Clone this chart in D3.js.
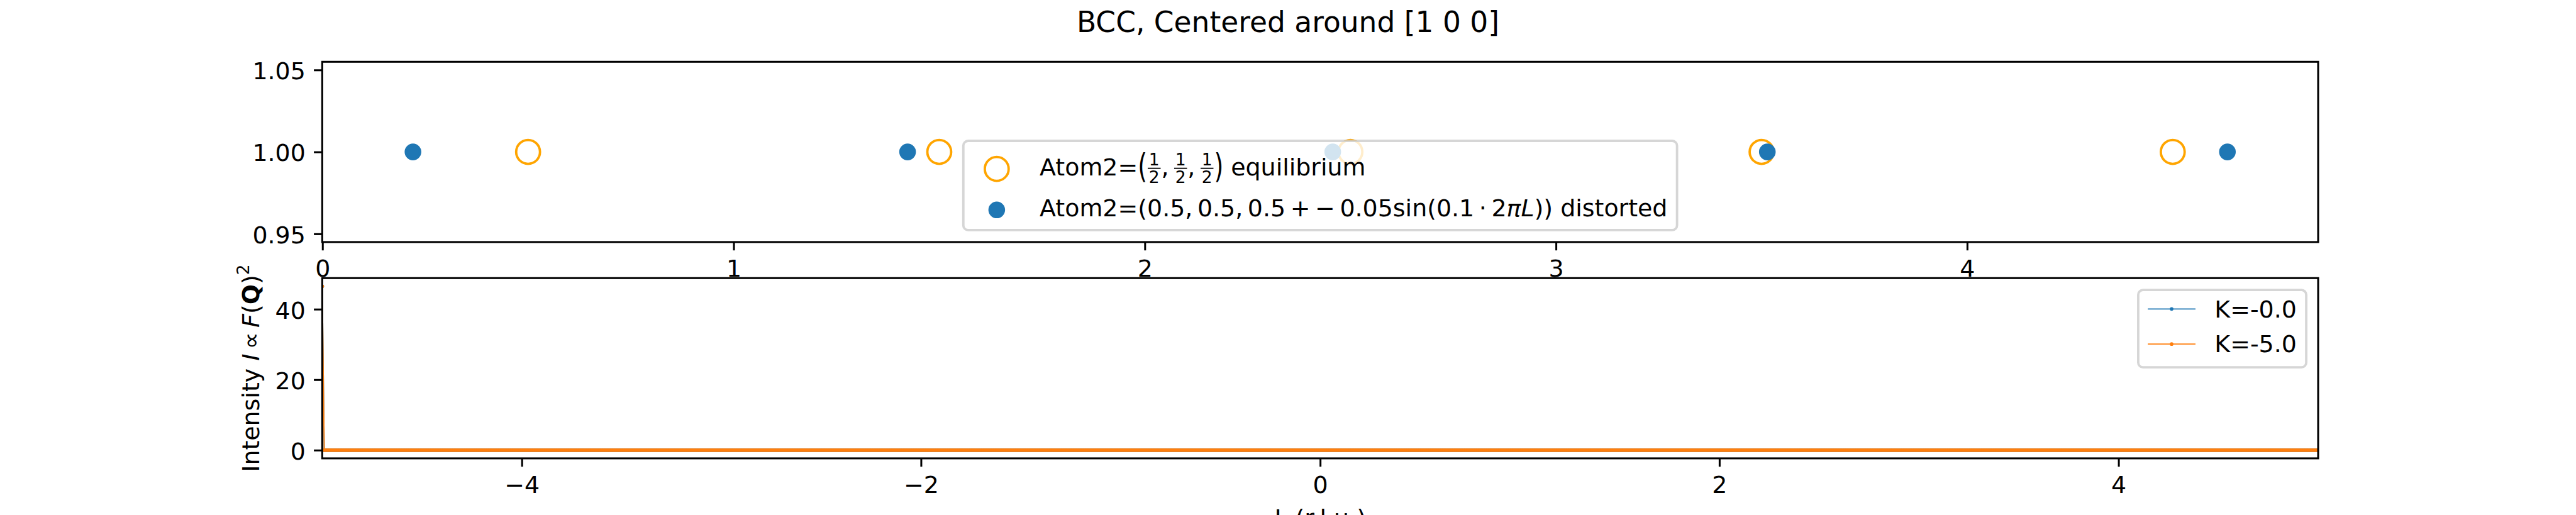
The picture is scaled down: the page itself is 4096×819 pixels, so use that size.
<!DOCTYPE html>
<html><head><meta charset="utf-8">
<script src="https://cdn.jsdelivr.net/npm/d3@7"></script>
<style>
html,body{margin:0;padding:0;background:#fff;overflow:hidden}
svg{display:block}
text{font-family:"DejaVu Sans",sans-serif;fill:#000}
</style>
</head><body>
<svg id="chart" width="4096" height="819" viewBox="0 0 4500 900"></svg>
<script>
// ---------------- data ----------------
const titleText = "BCC, Centered around [1 0 0]";
// top panel: atom positions along the axis
const equilibriumX = [0.5, 1.5, 2.5, 3.5, 4.5];
const equilibriumY = [1, 1, 1, 1, 1];
const distortedX = [0.220, 1.423, 2.457, 3.514, 4.633];
const distortedY = [1, 1, 1, 1, 1];
const topXTicks = [0, 1, 2, 3, 4];
const topYTicks = [0.95, 1.00, 1.05];
// bottom panel: intensity vs L
const seriesLabels = ["K=-0.0", "K=-5.0"];
const lRange = [-5, 5];
const lStep = 0.01;               // sampling of L
const baselineIntensity = 0;      // flat level
const peakL = [-5];               // only visible peak (left edge)
const peakK0 = [46.5];
const peakK5 = [46.5];
const bottomXTicks = [-4, -2, 0, 2, 4];
const bottomYTicks = [0, 20, 40];

// ---------------- layout ----------------
const PT = 300 / 72;
const FS = 10 * PT;
const axL = 562.5, axR = 4050;
const topAx = {top: 108, bottom: 423};
const botAx = {top: 486, bottom: 801};
const BLUE = "#1f77b4", ORANGE = "#ff7f0e", EQ_ORANGE = "#ffa500";

const svg = d3.select("#chart");
svg.append("rect").attr("width", 4500).attr("height", 900).attr("fill", "#fff");

svg.append("text").attr("x", 2250).attr("y", 56).attr("text-anchor", "middle")
  .attr("font-size", 12 * PT).text(titleText);

function styleAxis(g, kind) {
  g.attr("font-size", FS).attr("font-family", "DejaVu Sans");
  g.select(".domain").remove();
  g.selectAll(".tick line").attr("stroke", "#000").attr("stroke-width", 0.8 * PT);
  g.selectAll(".tick text").attr("fill", "#000");
  if (kind === "x") g.selectAll(".tick text").attr("dy", "0.76em");
  else g.selectAll(".tick text").attr("dy", "0.38em");
}
function spines(ax) {
  svg.append("rect").attr("x", axL).attr("y", ax.top).attr("width", axR - axL)
    .attr("height", ax.bottom - ax.top).attr("fill", "none")
    .attr("stroke", "#000").attr("stroke-width", 0.8 * PT);
}
function padDomain(vals) {
  let [a, b] = d3.extent(vals);
  if (a === b) { const e = Math.abs(a) * 0.05 || 0.05; a -= e; b += e; }
  const m = 0.05 * (b - a);
  return [a - m, b + m];
}

// ---------------- top panel ----------------
const xTop = d3.scaleLinear().domain(padDomain(equilibriumX.concat(distortedX))).range([axL, axR]);
const yTop = d3.scaleLinear().domain(padDomain(equilibriumY.concat(distortedY))).range([topAx.bottom, topAx.top]);

const gTopData = svg.append("g");
gTopData.selectAll("circle.eq").data(equilibriumX).join("circle")
  .attr("cx", (d) => xTop(d)).attr("cy", (d, i) => yTop(equilibriumY[i]))
  .attr("r", 5 * PT).attr("fill", "none").attr("stroke", EQ_ORANGE).attr("stroke-width", PT);
gTopData.selectAll("circle.ds").data(distortedX).join("circle")
  .attr("cx", (d) => xTop(d)).attr("cy", (d, i) => yTop(distortedY[i]))
  .attr("r", 3 * PT).attr("fill", BLUE).attr("stroke", BLUE).attr("stroke-width", PT);

svg.append("g").attr("transform", `translate(0,${topAx.bottom})`)
  .call(d3.axisBottom(xTop).tickValues(topXTicks).tickFormat(d3.format("d"))
    .tickSize(3.5 * PT).tickPadding(3.5 * PT)).call(styleAxis, "x");
svg.append("g").attr("transform", `translate(${axL},0)`)
  .call(d3.axisLeft(yTop).tickValues(topYTicks).tickFormat(d3.format(".2f"))
    .tickSize(3.5 * PT).tickPadding(3.5 * PT)).call(styleAxis, "y");
spines(topAx);

// ---------------- bottom panel ----------------
const nL = Math.round((lRange[1] - lRange[0]) / lStep) + 1;
const lGrid = d3.range(nL).map((i) => +(lRange[0] + i * lStep).toFixed(4));
function buildSeries(peaks) {
  return lGrid.map((l) => {
    const k = peakL.indexOf(l);
    return {L: l, I: k >= 0 ? peaks[k] : baselineIntensity};
  });
}
const series = [
  {label: seriesLabels[0], color: BLUE, data: buildSeries(peakK0)},
  {label: seriesLabels[1], color: ORANGE, data: buildSeries(peakK5)}
];
const xBot = d3.scaleLinear().domain(lRange).range([axL, axR]);
const allI = series.flatMap((s) => s.data.map((d) => d.I));
const yBot = d3.scaleLinear().domain(padDomain(allI)).range([botAx.bottom, botAx.top]);

svg.append("clipPath").attr("id", "clipB").append("rect")
  .attr("x", axL).attr("y", botAx.top).attr("width", axR - axL).attr("height", botAx.bottom - botAx.top);
const gBot = svg.append("g").attr("clip-path", "url(#clipB)");
const line = d3.line().x((d) => xBot(d.L)).y((d) => yBot(d.I));
series.forEach((s) => {
  const g = gBot.append("g");
  g.append("path").datum(s.data).attr("d", line).attr("fill", "none")
    .attr("stroke", s.color).attr("stroke-width", 0.5 * PT);
  g.selectAll("circle").data(s.data).join("circle")
    .attr("cx", (d) => xBot(d.L)).attr("cy", (d) => yBot(d.I))
    .attr("r", 0.75 * PT).attr("fill", s.color);
});

svg.append("g").attr("transform", `translate(0,${botAx.bottom})`)
  .call(d3.axisBottom(xBot).tickValues(bottomXTicks).tickFormat(d3.format("d"))
    .tickSize(3.5 * PT).tickPadding(3.5 * PT)).call(styleAxis, "x");
svg.append("g").attr("transform", `translate(${axL},0)`)
  .call(d3.axisLeft(yBot).tickValues(bottomYTicks).tickFormat(d3.format("d"))
    .tickSize(3.5 * PT).tickPadding(3.5 * PT)).call(styleAxis, "y");
spines(botAx);

// y label
const yl = svg.append("text").attr("font-size", FS).attr("text-anchor", "middle")
  .attr("transform", `translate(452,${(botAx.top + botAx.bottom) / 2}) rotate(-90)`);
yl.append("tspan").text("Intensity ");
yl.append("tspan").attr("font-style", "italic").text("I");
yl.append("tspan").attr("dx", 8).text("\u221d");
yl.append("tspan").attr("dx", 8).attr("font-style", "italic").text("F");
yl.append("tspan").text("(");
yl.append("tspan").attr("font-weight", "bold").text("Q");
yl.append("tspan").text(")");
yl.append("tspan").attr("font-size", FS * 0.7).attr("dy", -0.42 * FS).text("2");

// x label
svg.append("text").attr("x", (axL + axR) / 2).attr("y", 920).attr("text-anchor", "middle")
  .attr("font-size", FS).text("L (r.l.u.)");

// ---------------- legends ----------------
const BP = 0.4 * FS, HL = 2 * FS, HTP = 0.8 * FS, BAP = 0.5 * FS;

function frame(g, x, y, w, h) {
  g.insert("rect", ":first-child").attr("x", x).attr("y", y).attr("width", w).attr("height", h)
    .attr("rx", 0.2 * FS).attr("fill", "#fff").attr("fill-opacity", 0.8)
    .attr("stroke", "#cccccc").attr("stroke-opacity", 0.8).attr("stroke-width", PT);
}

// draws a sequence of pieces, returns width
function pieces(g, x0, base, list) {
  let x = x0;
  list.forEach((p) => {
    if (p.gap) { x += p.gap; return; }
    if (p.frac) {
      const sz = FS * 0.7;
      const n = g.append("text").attr("font-size", sz).attr("text-anchor", "middle").text(p.frac[0]);
      const d = g.append("text").attr("font-size", sz).attr("text-anchor", "middle").text(p.frac[1]);
      const w = Math.max(n.node().getComputedTextLength(), d.node().getComputedTextLength()) + 6;
      const bar = base - 12;
      n.attr("x", x + w / 2).attr("y", bar - 5);
      d.attr("x", x + w / 2).attr("y", bar + 4 + 0.73 * sz);
      g.append("line").attr("x1", x + 1).attr("x2", x + w - 1).attr("y1", bar).attr("y2", bar)
        .attr("stroke", "#000").attr("stroke-width", 2);
      x += w;
      return;
    }
    if (p.paren) {
      const t = g.append("text").attr("font-size", FS).attr("y", 12)
        .attr("transform", `translate(${x},${base - 12}) scale(1,1.4)`).text(p.paren);
      x += t.node().getComputedTextLength();
      return;
    }
    const t = g.append("text").attr("x", x).attr("y", base).attr("font-size", FS)
      .attr("font-style", p.italic ? "italic" : null).text(p.t);
    x += t.node().getComputedTextLength();
  });
  return x - x0;
}

// top legend (lower center)
{
  const g = svg.append("g");
  const legH = 156;
  const legBottom = topAx.bottom - BAP;
  const legTop = legBottom - legH;
  const base1 = legTop + BP + 43.3;
  const base2 = base1 + 71.6;
  const tmp = g.append("g");
  const s = 0.2 * FS;
  const row1 = [{t: "Atom2="}, {paren: "("}, {frac: ["1", "2"]}, {t: ","}, {gap: s},
    {frac: ["1", "2"]}, {t: ","}, {gap: s}, {frac: ["1", "2"]}, {paren: ")"}, {gap: 0.318 * FS}, {t: "equilibrium"}];
  const row2 = [{t: "Atom2=(0.5,"}, {gap: s}, {t: "0.5,"}, {gap: s}, {t: "0.5"}, {gap: s}, {t: "+"}, {gap: s},
    {t: "\u2212"}, {gap: s}, {t: "0.05sin(0.1"}, {gap: s}, {t: "\u00b7"}, {gap: s}, {t: "2"},
    {t: "\u03c0L", italic: true}, {t: "))"}, {gap: 0.318 * FS}, {t: "distorted"}];
  const w1 = pieces(tmp, 0, 0, row1);
  const w2 = pieces(tmp, 0, 0, row2);
  tmp.remove();
  const legW = 2 * BP + HL + HTP + Math.max(w1, w2);
  const legX = (axL + axR) / 2 - legW / 2;
  const tx = legX + BP + HL + HTP;
  pieces(g, tx, base1, row1);
  pieces(g, tx, base2, row2);
  const hx = legX + BP + HL / 2;
  const mo = 0.375 * 0.7 * FS;
  g.append("circle").attr("cx", hx).attr("cy", base1 - mo).attr("r", 5 * PT)
    .attr("fill", "none").attr("stroke", EQ_ORANGE).attr("stroke-width", PT);
  g.append("circle").attr("cx", hx).attr("cy", base2 - mo).attr("r", 3 * PT)
    .attr("fill", BLUE).attr("stroke", BLUE).attr("stroke-width", PT);
  frame(g, legX, legTop, legW, legH);
}

// bottom legend (upper right)
{
  const g = svg.append("g");
  const rowH = 40.5, spacing = 0.5 * FS;
  const legH = 2 * BP + 2 * rowH + spacing;
  const legTop = botAx.top + BAP;
  const texts = series.map((s, i) => g.append("text").attr("font-size", FS).text(s.label));
  const tw = d3.max(texts, (t) => t.node().getComputedTextLength());
  const legW = 2 * BP + HL + HTP + tw;
  const legX = axR - BAP - legW;
  series.forEach((s, i) => {
    const base = legTop + BP + 31 + i * (rowH + spacing);
    texts[i].attr("x", legX + BP + HL + HTP).attr("y", base);
    const cy = base - 0.35 * FS;
    g.append("line").attr("x1", legX + BP).attr("x2", legX + BP + HL).attr("y1", cy).attr("y2", cy)
      .attr("stroke", s.color).attr("stroke-width", 0.5 * PT);
    g.append("circle").attr("cx", legX + BP + HL / 2).attr("cy", cy).attr("r", 0.75 * PT).attr("fill", s.color);
  });
  frame(g, legX, legTop, legW, legH);
}
</script>
</body></html>
